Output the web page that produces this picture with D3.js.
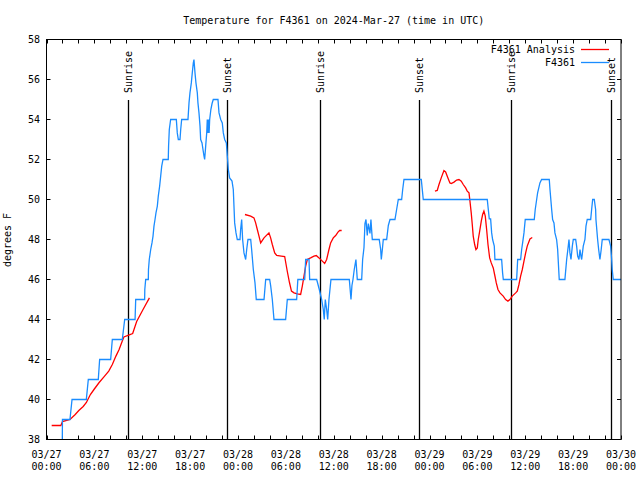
<!DOCTYPE html>
<html><head><meta charset="utf-8">
<script src="https://cdn.jsdelivr.net/npm/d3@7"></script>
<style>body{margin:0;background:#fff}svg{display:block}text{font-family:"DejaVu Sans Mono",monospace;font-size:10px;fill:#000}</style>
</head><body><svg id="c" width="640" height="480"></svg>
<script>
const title = "Temperature for F4361 on 2024-Mar-27 (time in UTC)";
const yLabel = "degrees F";
const startUTC = Date.UTC(2024, 2, 27, 0, 0);
const seriesNames = ["F4361 Analysis", "F4361"];
const yTicks = [38,40,42,44,46,48,50,52,54,56,58];
// hours since 03/27 00:00 UTC, temperature F
const observed = [[1.98,38],[2.0,39],[2.94,39],[3.2,40],[4.99,40],[5.24,41],[6.49,41],[6.66,42],[8.04,42],[8.25,43],[9.5,43],[9.8,44],[11.1,44],[11.18,45],[12.3,45],[12.32,45.5],[12.43,46],[12.76,46],[12.78,46.5],[12.88,47],[13.06,47.5],[13.22,47.83],[13.35,48.17],[13.47,48.67],[13.6,49],[13.72,49.33],[13.89,49.67],[14.01,50.17],[14.18,50.67],[14.31,51.17],[14.44,51.67],[14.6,52],[15.26,52],[15.3,52.67],[15.39,53.5],[15.56,54],[16.27,54],[16.39,53.33],[16.52,53],[16.73,53],[16.82,53.5],[16.94,54],[17.73,54],[17.86,54.83],[17.98,55.33],[18.15,55.83],[18.27,56.33],[18.4,56.83],[18.48,57],[18.61,56.33],[18.73,55.83],[18.9,55.33],[18.98,54.83],[19.11,54.33],[19.24,53.67],[19.32,53],[19.49,52.83],[19.61,52.5],[19.74,52.17],[19.82,52],
[19.95,52.67],[20.08,53.33],[20.15,54],[20.22,53.33],[20.3,54],[20.38,53.33],[20.45,54],[20.6,54.5],[20.75,54.8],[20.9,55],[21.49,55],[21.62,54.33],[21.83,54],[22.03,53.83],[22.16,53.33],[22.33,53],[22.54,52.83],[22.66,52.17],[22.79,51.5],[22.95,51.08],[23.25,50.92],[23.41,50.5],[23.58,48.83],[23.75,48.33],[23.91,48],[24.25,48],[24.33,48.5],[24.46,49],[24.58,48],[24.75,47.33],[24.96,47],[25.09,47.5],[25.25,48],[25.59,48],[25.71,47.5],[25.92,46.5],[26.13,45.83],[26.29,45],[27.26,45],[27.47,46],[27.97,46],[28.1,45.67],[28.3,45],[28.51,44],[29.97,44],[30.18,45],[31.35,45],[31.5,46],[32.36,46],[32.48,47],[32.9,47],[32.98,46],[33.86,46],[34.19,45.5],[34.48,45],[34.69,44.5],[34.81,44],[34.94,45],[35.11,44.5],[35.24,44],[35.4,45],[35.65,46],[37.95,46],[38.16,45],[38.28,45.7],[38.41,46],[38.57,46.5],[38.78,47],[38.95,46],[39.5,46],[39.62,47],[39.79,47.6],[39.91,48.8],[40.04,49],[40.2,48.2],[40.33,48.8],[40.54,48.3],[40.66,49],[40.83,48],[41.7,48],[41.88,47.5],[41.96,47],[42.09,47.5],[42.21,48],[42.63,48],[42.84,48.7],[43.05,49],[43.67,49],[43.88,49.5],[44.09,50],[44.51,50],[44.64,50.5],[44.8,51],[46.97,51],[47.22,50],[55.24,50],
[55.37,49.5],[55.49,49.03],[55.66,49.03],[55.79,48.33],[55.91,48],[56.12,47.67],[56.2,47],[57.04,47],[57.16,46.33],[57.25,46],[58.92,46],[59.05,47],[59.42,47],[59.55,47.5],[59.67,47.83],[59.84,48.33],[60.0,49],[61.13,49],[61.25,49.5],[61.43,50],[61.55,50.33],[61.84,50.83],[62.05,51],[63.01,51],[63.1,50.5],[63.31,49.5],[63.43,49],[63.6,48.83],[63.72,48.33],[63.93,48],[64.06,47.5],[64.26,46],[64.97,46],[65.19,47],[65.39,47.67],[65.48,48],[65.6,47.33],[65.73,47],[65.9,47.67],[66.02,48],[66.32,48],[66.44,47.67],[66.57,47.17],[66.73,47],[66.86,47.5],[66.98,47.17],[67.07,47],[67.27,47.67],[67.48,48],[67.61,48.67],[67.77,49],[68.2,49],[68.32,49.5],[68.45,50],[68.65,50],[68.82,49.5],[68.86,49],[69.07,48],[69.2,47.5],[69.36,47],[69.52,47.5],[69.65,48],[70.49,48],[70.7,47.67],[70.83,47],[70.9,46.5],[71.03,46],[72,46]];
const analysis1 = [[0.65,38.7],[1.8,38.7],[2.0,38.9],[2.95,39.0],[3.6,39.25],[4.05,39.45],[4.6,39.65],[5.0,39.85],[5.5,40.25],[5.95,40.5],[6.6,40.85],[7.2,41.13],[7.8,41.42],[8.25,41.75],[8.7,42.17],[9.1,42.5],[9.5,42.92],[9.7,43.13],[10.3,43.22],[10.8,43.3],[11.3,43.9],[12.1,44.5],[12.9,45.08]];
const analysis2 = [[24.87,49.25],[25.59,49.17],[26.0,49.08],[26.21,48.83],[26.42,48.5],[26.63,48.17],[26.84,47.83],[27.26,48.08],[27.88,48.33],[28.09,48.08],[28.3,47.75],[28.6,47.33],[28.85,47.2],[29.42,47.17],[29.85,47.15],[30.18,46.4],[30.45,45.85],[30.7,45.42],[31.02,45.33],[31.43,45.28],[31.85,45.25],[32.06,45.67],[32.27,46.17],[32.48,46.67],[32.69,47],[33.1,47.08],[33.52,47.17],[33.81,47.2],[34.15,47.08],[34.57,46.92],[34.86,46.8],[35.11,47],[35.4,47.5],[35.61,47.83],[35.94,48.08],[36.24,48.2],[36.53,48.37],[36.74,48.45],[36.99,48.45]];
const analysis3 = [[48.68,50.42],[48.97,50.45],[49.19,50.75],[49.47,51.08],[49.81,51.45],[50.02,51.38],[50.31,51.08],[50.56,50.83],[50.73,50.8],[51.07,50.87],[51.4,50.97],[51.69,51.0],[51.98,50.92],[52.23,50.75],[52.53,50.58],[52.73,50.42],[52.95,50.33],[53.07,49.92],[53.23,49.33],[53.36,48.75],[53.48,48.17],[53.66,47.75],[53.82,47.5],[53.99,47.58],[54.11,48],[54.29,48.42],[54.49,48.92],[54.66,49.25],[54.82,49.42],[54.99,49.17],[55.16,48.5],[55.33,47.75],[55.54,47.08],[55.74,46.83],[55.99,46.58],[56.16,46.25],[56.37,45.83],[56.58,45.5],[56.83,45.33],[57.24,45.17],[57.54,45.0],[57.83,44.92],[58.08,45.0],[58.37,45.17],[58.8,45.33],[59.0,45.42],[59.21,45.75],[59.42,46.17],[59.63,46.5],[59.84,46.92],[60.05,47.33],[60.25,47.67],[60.59,48.03],[60.88,48.1]];
const sunEvents = [["Sunrise",10.27],["Sunset",22.66],["Sunrise",34.29],["Sunset",46.72],["Sunrise",58.25],["Sunset",70.78]];

const H = 3600e3;
const t = h => new Date(startUTC + h * H);
const svg = d3.select("#c");
const L = 46.5, R = 621, T = 39.5, B = 439.5;
const x = d3.scaleUtc().domain([t(0), t(72)]).range([L, R]);
const y = d3.scaleLinear().domain([38, 58]).range([B, T]);

svg.append("text").attr("x", (L+R)/2).attr("y", 24).attr("text-anchor","middle").text(title);
svg.append("text").attr("transform","translate(11,240) rotate(-90)").attr("text-anchor","middle").text(yLabel);

const tick2h = d3.range(0, 73, 2).map(t);
const tick6h = d3.range(0, 73, 6).map(t);
const fmtD = d3.utcFormat("%m/%d"), fmtH = d3.utcFormat("%H:%M");

// axes
const ax = svg.append("g").attr("stroke","#000").attr("stroke-width",1);
ax.selectAll(".xb").data(tick2h).join("line")
  .attr("x1", d => Math.round(x(d))+0.5).attr("x2", d => Math.round(x(d))+0.5)
  .attr("y1", B).attr("y2", B-4);
ax.selectAll(".xt").data(tick2h).join("line")
  .attr("x1", d => Math.round(x(d))+0.5).attr("x2", d => Math.round(x(d))+0.5)
  .attr("y1", T).attr("y2", T+4);
ax.selectAll(".yl").data(yTicks).join("line")
  .attr("x1", L).attr("x2", L+4).attr("y1", d => y(d)).attr("y2", d => y(d));
ax.selectAll(".yr").data(yTicks).join("line")
  .attr("x1", R).attr("x2", R-4).attr("y1", d => y(d)).attr("y2", d => y(d));

const xl = svg.append("g").attr("text-anchor","middle");
tick6h.forEach(d => {
  const tx = xl.append("text").attr("x", x(d)).attr("y", 458);
  tx.append("tspan").attr("x", x(d)).text(fmtD(d));
  tx.append("tspan").attr("x", x(d)).attr("dy", 12).text(fmtH(d));
});
svg.append("g").attr("text-anchor","end").selectAll("text").data(yTicks).join("text")
  .attr("x", 40).attr("y", d => y(d)).attr("dy","0.35em").text(d => d);

// sun events
const sg = svg.append("g");
sunEvents.forEach(([name, h]) => {
  const xx = Math.round(x(t(h))) + 0.5;
  sg.append("line").attr("x1", xx).attr("x2", xx).attr("y1", 100).attr("y2", B)
    .attr("stroke","#000").attr("stroke-width",1.3);
  sg.append("text").attr("transform", `translate(${xx},93) rotate(-90)`)
    .attr("text-anchor","start").attr("dy","0.35em").text(name);
});

const line = d3.line().x(d => x(t(d[0]))).y(d => y(d[1]));
svg.append("clipPath").attr("id","pc").append("rect")
  .attr("x", L).attr("y", T).attr("width", R-L).attr("height", B-T);
const lines = svg.append("g").attr("clip-path","url(#pc)").attr("fill","none").attr("stroke-width",1.3);
[analysis1, analysis2, analysis3].forEach(s =>
  lines.append("path").datum(s).attr("d", line).attr("stroke","#ff0000"));
lines.append("path").datum(observed).attr("d", line).attr("stroke","#1a8cff");

// frame
svg.append("rect").attr("x", L).attr("y", T).attr("width", R-L).attr("height", B-T)
  .attr("fill","none").attr("stroke","#000").attr("stroke-width",1);

// legend
const colors = ["#ff0000", "#1a8cff"];
seriesNames.forEach((n, i) => {
  const ly = 49 + i*13;
  svg.append("text").attr("x", 575).attr("y", ly).attr("dy","0.35em").attr("text-anchor","end").text(n);
  svg.append("line").attr("x1", 581).attr("x2", 609).attr("y1", ly+0.5).attr("y2", ly+0.5)
    .attr("stroke", colors[i]).attr("stroke-width",1.3);
});
</script></body></html>
